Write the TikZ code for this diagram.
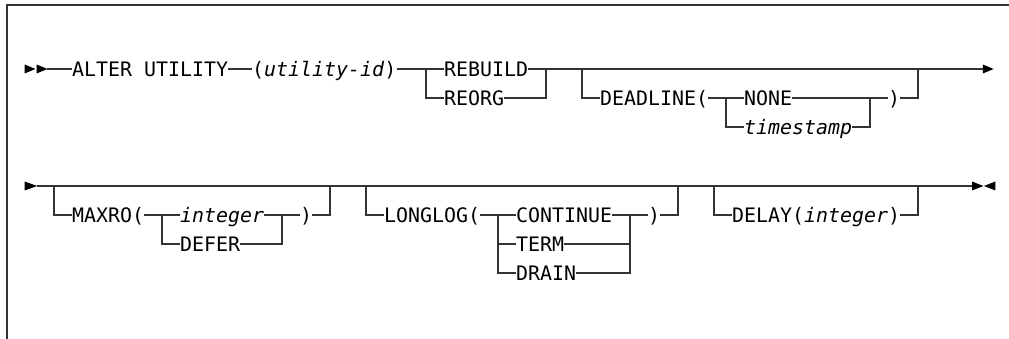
\documentclass[tikz,border=0pt]{standalone}
\usepackage{fontspec}
\setmainfont{DejaVu Sans Mono}
\usepackage{tikz}
\usetikzlibrary{calc}
\definecolor{railgray}{rgb}{0.2,0.2,0.2}

\begin{document}
\begin{tikzpicture}[x=12pt,y=-1pt,
   kw/.style={inner sep=0pt,anchor=west,text height=14.6pt,text depth=0pt,
              font=\fontsize{19.93pt}{24pt}\selectfont},
   rail/.style={draw=railgray,line width=1.2pt},
   tip/.style={fill=black}]
  \useasboundingbox (0,0) rectangle (84.083,339);
  % frame
  \draw[line width=1.4pt,railgray] (84.083,5) -- (0.583,5) -- (0.583,339);

  % first line
  \fill[tip] (2.05,64.5) -- (2.95,69) -- (2.05,73.5) -- cycle;
  \fill[tip] (3.05,64.5) -- (3.95,69) -- (3.05,73.5) -- cycle;
  \coordinate (s1) at (3.95,69);
  \node[kw] (alter) at (6,69) {ALTER UTILITY};
  \node[kw] (uid) at (21,69) {(\textit{utility-id})};
  \coordinate (j1a) at (35.5,69);
  \node[kw] (rebuild) at (37,69) {REBUILD};
  \node[kw] (reorg) at (37,98) {REORG};
  \coordinate (j1b) at (45.5,69);
  \coordinate (j1c) at (48.5,69);
  \node[kw] (deadline) at (50,98) {DEADLINE(};
  \coordinate (j1d) at (60.5,98);
  \node[kw] (none) at (62,98) {NONE};
  \node[kw] (tstamp) at (62,127) {\textit{timestamp}};
  \coordinate (j1e) at (72.5,98);
  \node[kw] (rp1) at (74,98) {)};
  \coordinate (j1f) at (76.5,69);
  \coordinate (e1) at (81.9,69);
  \fill[tip] (81.9,64.5) -- (82.8,69) -- (81.9,73.5) -- cycle;

  \draw[rail] (s1) -- (alter.west);
  \draw[rail] (alter.east) -- (uid.west);
  \draw[rail] (uid.east) -- (j1a) -- (rebuild.west);
  \draw[rail] (j1a) |- (reorg.west);
  \draw[rail] (rebuild.east) -- (j1b);
  \draw[rail] (reorg.east) -| (j1b);
  \draw[rail] (j1b) -- (e1);
  \draw[rail] (j1c) |- (deadline.west);
  \draw[rail] (deadline.east) -- (j1d) -- (none.west);
  \draw[rail] (j1d) |- (tstamp.west);
  \draw[rail] (none.east) -- (j1e);
  \draw[rail] (tstamp.east) -| (j1e);
  \draw[rail] (j1e) -- (rp1.west);
  \draw[rail] (rp1.east) -| (j1f);

  % second line
  \fill[tip] (2.05,181.5) -- (3.1,186) -- (2.05,190.5) -- cycle;
  \coordinate (s2) at (3.1,186);
  \coordinate (j2a) at (4.5,186);
  \node[kw] (maxro) at (6,215) {MAXRO(};
  \coordinate (j2b) at (13.5,215);
  \node[kw] (int1) at (15,215) {\textit{integer}};
  \node[kw] (defer) at (15,244) {DEFER};
  \coordinate (j2c) at (23.5,215);
  \node[kw] (rp2) at (25,215) {)};
  \coordinate (j2d) at (27.5,186);
  \coordinate (j2e) at (30.5,186);
  \node[kw] (longlog) at (32,215) {LONGLOG(};
  \coordinate (j2f) at (41.5,215);
  \node[kw] (cont) at (43,215) {CONTINUE};
  \node[kw] (term) at (43,244) {TERM};
  \node[kw] (drain) at (43,273) {DRAIN};
  \coordinate (j2g) at (52.5,215);
  \node[kw] (rp3) at (54,215) {)};
  \coordinate (j2h) at (56.5,186);
  \coordinate (j2i) at (59.5,186);
  \node[kw] (delay) at (61,215) {DELAY(\textit{integer})};
  \coordinate (j2j) at (76.5,186);
  \coordinate (e2) at (81,186);
  \fill[tip] (81,181.5) -- (81.95,186) -- (81,190.5) -- cycle;
  \fill[tip] (82.95,181.5) -- (82,186) -- (82.95,190.5) -- cycle;

  \draw[rail] (s2) -- (e2);
  \draw[rail] (j2a) |- (maxro.west);
  \draw[rail] (maxro.east) -- (j2b) -- (int1.west);
  \draw[rail] (j2b) |- (defer.west);
  \draw[rail] (int1.east) -- (j2c);
  \draw[rail] (defer.east) -| (j2c);
  \draw[rail] (j2c) -- (rp2.west);
  \draw[rail] (rp2.east) -| (j2d);
  \draw[rail] (j2e) |- (longlog.west);
  \draw[rail] (longlog.east) -- (j2f) -- (cont.west);
  \draw[rail] (j2f) |- (term.west);
  \draw[rail] (j2f) |- (drain.west);
  \draw[rail] (cont.east) -- (j2g);
  \draw[rail] (term.east) -| (j2g);
  \draw[rail] (drain.east) -| (j2g);
  \draw[rail] (j2g) -- (rp3.west);
  \draw[rail] (rp3.east) -| (j2h);
  \draw[rail] (j2i) |- (delay.west);
  \draw[rail] (delay.east) -| (j2j);
\end{tikzpicture}
\end{document}
